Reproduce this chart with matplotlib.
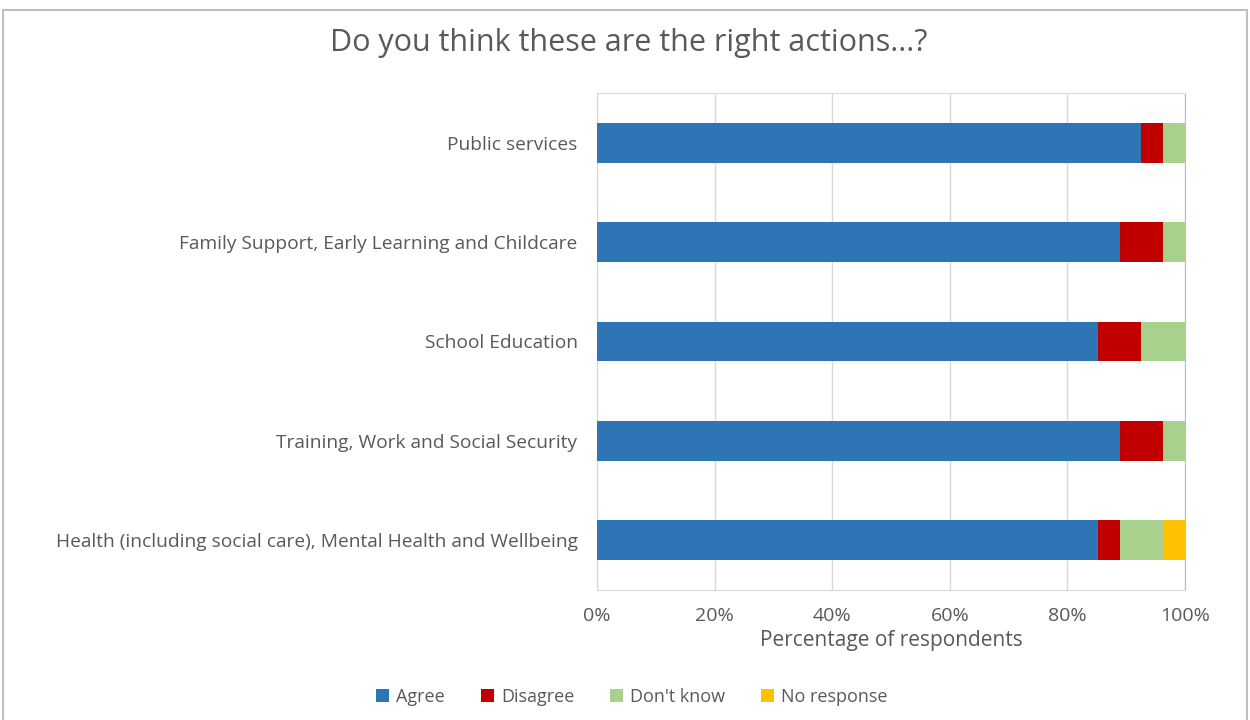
import matplotlib.pyplot as plt
import numpy as np
from matplotlib.patches import Rectangle

plt.rcParams['font.family'] = ['Open Sans', 'DejaVu Sans']

# categories from top to bottom, counts out of 27 respondents
categories = ["Public services",
              "Family Support, Early Learning and Childcare",
              "School Education",
              "Training, Work and Social Security",
              "Health (including social care), Mental Health and Wellbeing"]
agree = [25, 24, 23, 24, 23]
disagree = [1, 2, 2, 2, 1]
dont_know = [1, 1, 2, 1, 2]
no_response = [0, 0, 0, 0, 1]
n_resp = 27

series = ["Agree", "Disagree", "Don't know", "No response"]
colors = ["#2E75B6", "#C00000", "#A9D18E", "#FFC000"]
txt = "#595959"

fig = plt.figure(figsize=(12.5, 7.2), dpi=100)
ax = fig.add_axes([597/1250, 1-590/720, 588/1250, 497/720])

# outer chart border
fig.patches.append(Rectangle((3/1250, -0.01), 1244/1250, 1-10/720+0.01,
                             transform=fig.transFigure, fill=False,
                             edgecolor="#BFBFBF", linewidth=1.5))

y = np.arange(len(categories))
left = np.zeros(len(categories))
for name, vals, col in zip(series, [agree, disagree, dont_know, no_response], colors):
    pct = np.array(vals) / n_resp * 100
    ax.barh(y, pct, left=left, height=0.4, color=col, label=name, zorder=3)
    left += pct

ax.set_xlim(0, 100)
ax.set_ylim(len(categories) - 0.5, -0.5)
ax.set_yticks(y)
ax.set_yticklabels(categories, fontsize=13.8, color=txt)
ax.set_xticks(np.arange(0, 101, 20))
ax.set_xticklabels([f"{v}%" for v in range(0, 101, 20)], fontsize=14, color=txt)
ax.tick_params(axis='y', length=0, pad=14)
ax.tick_params(axis='x', length=0, pad=12)
ax.xaxis.grid(True, color="#D9D9D9", linewidth=1, zorder=0)
for s in ax.spines.values():
    s.set_color("#D9D9D9")
ax.spines['right'].set_color("#BFBFBF")
ax.set_xlabel("Percentage of respondents", fontsize=15, color=txt, labelpad=4)

fig.text(629/1250, 1-43/720, "Do you think these are the right actions...?",
         ha="center", va="center", fontsize=22, color=txt)

fig.legend(loc="center", bbox_to_anchor=(632/1250, 1-697/720), ncol=4,
           frameon=False, fontsize=13, handlelength=0.7, handleheight=0.7,
           columnspacing=2.0, handletextpad=0.4, labelcolor=txt)

fig.savefig("out.png", dpi=100)
